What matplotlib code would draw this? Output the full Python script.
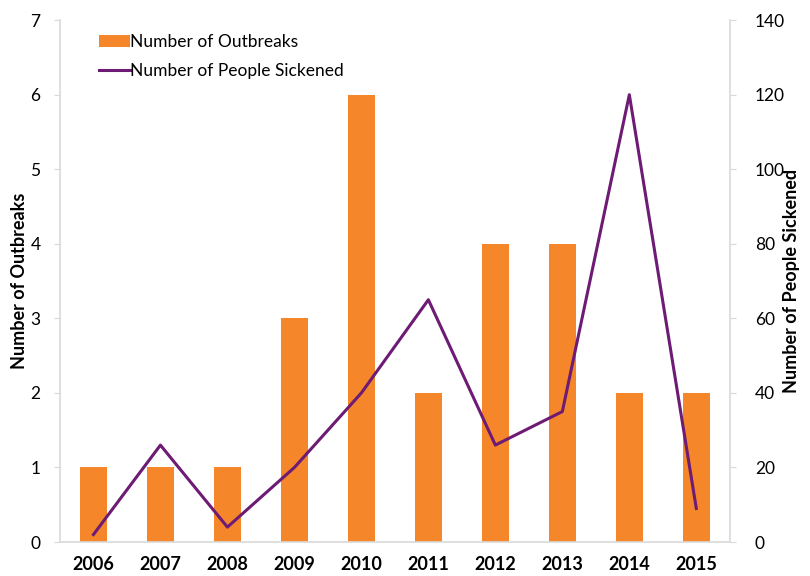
import matplotlib
matplotlib.use("Agg")
import matplotlib.pyplot as plt

plt.rcParams['font.family'] = ['Lato', 'DejaVu Sans']

years = ['2006', '2007', '2008', '2009', '2010', '2011', '2012', '2013', '2014', '2015']
outbreaks = [1, 1, 1, 3, 6, 2, 4, 4, 2, 2]
sickened = [2, 26, 4, 20, 40, 65, 26, 35, 120, 9]

orange = '#F5872A'
purple = '#6D1B74'
grey = '#D9D9D9'

fig = plt.figure(figsize=(8.1, 5.76), dpi=100)
ax = fig.add_axes([0.074, 0.059, 0.827, 0.906])
ax2 = ax.twinx()

x = list(range(len(years)))
b = ax.bar(x, outbreaks, width=0.4, color=orange, label='Number of Outbreaks', zorder=2)
l, = ax2.plot(x, sickened, color=purple, lw=2.2, label='Number of People Sickened', zorder=3)

ax.set_xlim(-0.5, 9.5)
ax.set_ylim(0, 7)
ax2.set_ylim(0, 140)
ax.set_yticks(range(0, 8))
ax2.set_yticks(range(0, 141, 20))
ax.set_xticks(x)
ax.set_xticklabels(years, fontsize=13, fontweight='bold')
ax.tick_params(axis='x', length=0, pad=10)
ax.tick_params(axis='y', labelsize=12.5, length=4, color=grey, pad=10)
ax2.tick_params(axis='y', labelsize=12.5, length=4, color=grey, pad=14)

for a in (ax, ax2):
    a.spines['top'].set_visible(False)
    for s in ('left', 'right', 'bottom'):
        a.spines[s].set_color(grey)
        a.spines[s].set_linewidth(1.2)
ax.spines['right'].set_visible(False)
ax2.spines['left'].set_visible(False)
ax2.spines['bottom'].set_visible(False)

ax.set_ylabel('Number of Outbreaks', fontsize=13, fontweight='bold')
ax2.set_ylabel('Number of People Sickened', fontsize=13, fontweight='bold', rotation=90)
ax.yaxis.set_label_coords(-0.048, 0.5)
ax2.yaxis.set_label_coords(1.08, 0.5)

ax.set_zorder(1)
ax2.set_zorder(2)
ax2.patch.set_visible(False)

leg = ax.legend([b, l], ['Number of Outbreaks', 'Number of People Sickened'],
                loc='upper left', bbox_to_anchor=(0.035, 1.003), frameon=False,
                fontsize=12.5, handlelength=1.8, handletextpad=0.0, labelspacing=0.75)

fig.savefig('out.png', dpi=100)
